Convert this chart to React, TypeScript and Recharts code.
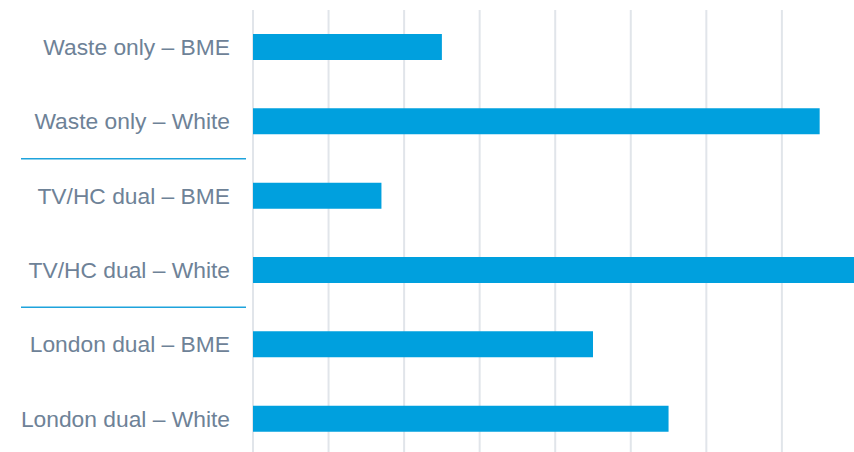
import { BarChart, Bar, XAxis, YAxis, CartesianGrid } from 'recharts'

const categories = [
  'Waste only – BME',
  'Waste only – White',
  'TV/HC dual – BME',
  'TV/HC dual – White',
  'London dual – BME',
  'London dual – White',
]
const values = [2.5, 7.5, 1.7, 8.2, 4.5, 5.5]
const xTicks = [0, 1, 2, 3, 4, 5, 6, 7, 8, 9]
// groups end after these categories; a rule is drawn under them
const groupEnds = [1, 3]

const data = categories.map((name, i) => ({ name, value: values[i] }))

const CHART_H = 460
const MARGIN = { top: 10, right: 7, left: 0, bottom: 4 }
const STEP = (CHART_H - MARGIN.top - MARGIN.bottom) / categories.length

function CategoryTick({ x, y, payload, index }: any) {
  return (
    <g>
      <text
        x={x - 15}
        y={y}
        dy="0.35em"
        textAnchor="end"
        fontSize={22.8}
        fill="#6e8297"
        fontFamily="'Liberation Sans', Arial, sans-serif"
      >
        {payload.value}
      </text>
      {groupEnds.includes(index) && (
        <line x1={21} x2={246} y1={y + STEP / 2} y2={y + STEP / 2} stroke="#1ea3dc" strokeWidth={1.5} />
      )}
    </g>
  )
}

const NoTick = () => <g />

export default function App() {
  return (
    <div style={{ position: 'absolute', left: 0, top: 0, width: 854, height: 452, overflow: 'hidden', background: '#fff' }}>
      <BarChart width={940} height={CHART_H} data={data} layout="vertical" margin={MARGIN} barCategoryGap={0}>
        <CartesianGrid horizontal={false} stroke="#e1e5ea" strokeWidth={2} />
        <XAxis type="number" domain={[0, 9]} ticks={xTicks} tick={<NoTick />} axisLine={false} tickLine={false} height={0} />
        <YAxis
          type="category"
          dataKey="name"
          width={253}
          axisLine={false}
          tickLine={false}
          interval={0}
          tick={<CategoryTick />}
        />
        <Bar dataKey="value" fill="#00a0de" barSize={26} isAnimationActive={false} />
      </BarChart>
    </div>
  )
}
